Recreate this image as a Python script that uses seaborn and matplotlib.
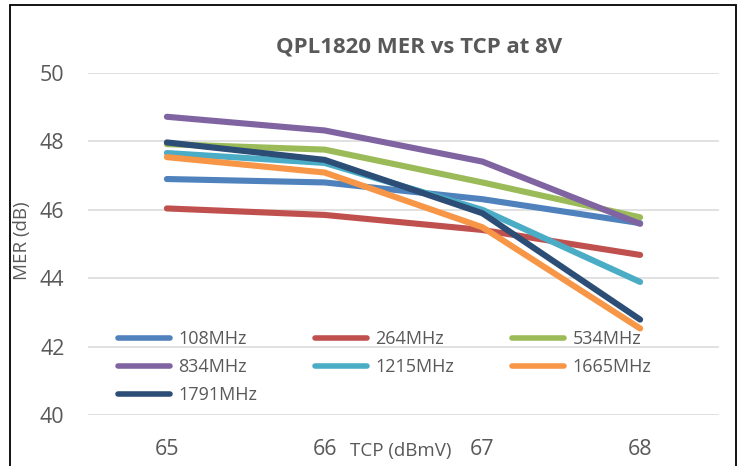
import pandas as pd
import numpy as np
import matplotlib
matplotlib.use('Agg')
import matplotlib.pyplot as plt
import seaborn as sns
from matplotlib.patches import Rectangle

# data
tcp = [65, 66, 67, 68]
freqs = ['108MHz', '264MHz', '534MHz', '834MHz', '1215MHz', '1665MHz', '1791MHz']
mer_108 = [46.90, 46.80, 46.31, 45.61]
mer_264 = [46.04, 45.85, 45.41, 44.68]
mer_534 = [47.92, 47.76, 46.80, 45.78]
mer_834 = [48.72, 48.32, 47.41, 45.59]
mer_1215 = [47.66, 47.37, 46.00, 43.89]
mer_1665 = [47.54, 47.09, 45.49, 42.53]
mer_1791 = [47.97, 47.46, 45.90, 42.79]
colors = ['#4F81BD', '#C0504D', '#9BBB59', '#8064A2', '#4BACC6', '#F79646', '#2C4D75']

series = [mer_108, mer_264, mer_534, mer_834, mer_1215, mer_1665, mer_1791]
rows = []
for name, vals in zip(freqs, series):
    for x, v in zip(tcp, vals):
        rows.append({'tcp': x, 'mer': v, 'freq': name})
df = pd.DataFrame(rows)

sns.set_style('white')
plt.rcParams['font.family'] = ['Open Sans', 'DejaVu Sans']
grey = '#595959'

fig = plt.figure(figsize=(7.41, 4.66), dpi=100)
W, H = 741, 466
ax = fig.add_axes([88 / W, 1 - 415 / H, (719 - 88) / W, (415 - 73) / H])

sns.lineplot(data=df, x='tcp', y='mer', hue='freq', hue_order=freqs,
             palette=colors, linewidth=4.4, legend=False, ax=ax,
             solid_capstyle='round')

ax.set_xlim(64.5, 68.5)
ax.set_ylim(40, 50)
ax.set_xticks(tcp)
ax.set_yticks([40, 42, 44, 46, 48, 50])
ax.yaxis.grid(True, color='#D9D9D9', linewidth=1.1)
ax.set_axisbelow(True)
for s in ax.spines.values():
    s.set_visible(False)
ax.tick_params(axis='both', length=0, labelsize=15.5, labelcolor=grey, pad=17)

ax.set_xlabel('TCP (dBmV)', fontsize=13.5, color=grey)
ax.xaxis.set_label_coords(0.495, -0.078)
ax.set_ylabel('MER (dB)', fontsize=13.5, color=grey)
ax.yaxis.set_label_coords(-0.09, 0.51)

fig.text(419 / W, 1 - 47 / H, 'QPL1820 MER vs TCP at 8V', fontsize=16,
         fontweight='bold', color=grey, ha='center', va='center')

# legend filled row by row like Excel
lines = ax.get_lines()[:len(freqs)]
order = [0, 3, 6, 1, 4, 2, 5]
leg = ax.legend([lines[i] for i in order], [freqs[i] for i in order],
                ncol=3, loc='upper left', bbox_to_anchor=(118 / W, 1 - 330 / H),
                bbox_transform=fig.transFigure, frameon=False, fontsize=13,
                handlelength=2.9, handletextpad=0.44, columnspacing=3.2,
                labelspacing=0.56, borderpad=0, borderaxespad=0)
for t in leg.get_texts():
    t.set_color(grey)
for h in leg.legend_handles:
    h.set_linewidth(4.0)
    h.set_solid_capstyle('round')

fig.patches.append(Rectangle((10 / W, -0.05), (736 - 10) / W, 1.05 - 5 / H,
                             transform=fig.transFigure, fill=False,
                             edgecolor='black', linewidth=1.3))

fig.savefig('out.png', dpi=100)
